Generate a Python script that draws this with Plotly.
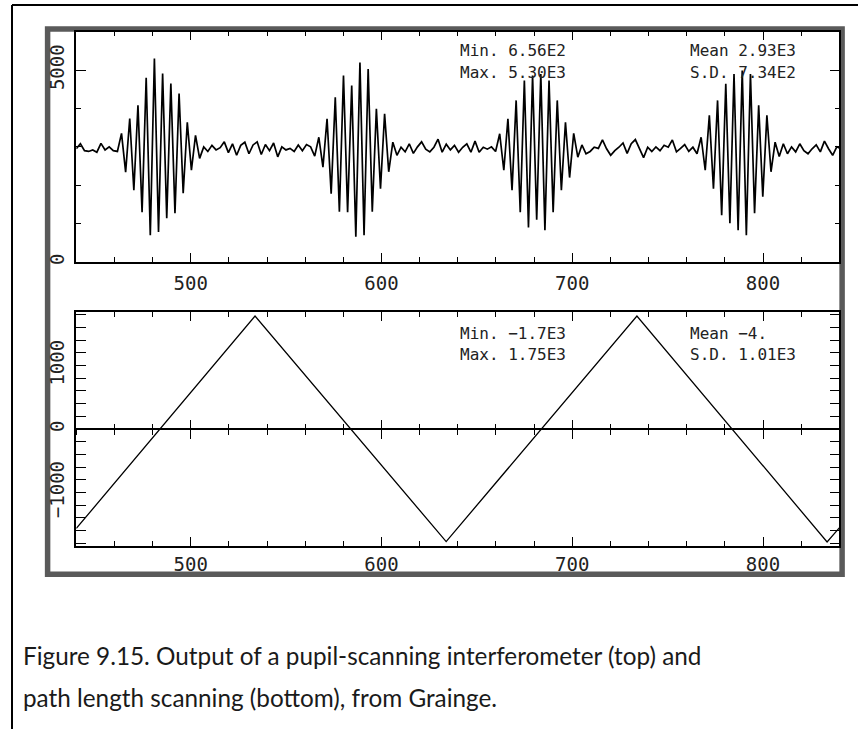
import numpy as np
import plotly.graph_objects as go

W, H = 858, 729

# ---------------- data: top panel (pupil-scanning interferometer output) ----------------
SCAN_START = 440.0     # first sample position
SCAN_STEP = 2.155      # sample spacing
baseline_a = [2950, 3080, 2900, 2880, 2920, 2860, 3090, 2920, 3000, 2900, 2880]
packet_1 = [3350, 2340, 3740, 1870, 4080, 1300, 4800, 700, 5300, 780,
            4910, 1140, 4650, 1270, 4390, 1790, 3640, 2390, 3300, 2700]
baseline_b = [3000, 2880, 3040, 2920, 2980, 3130, 2850, 3080, 2780, 3040,
              3120, 2820, 3050, 3130, 2800, 3060, 2900, 3100, 2740, 3000,
              2920, 2960, 2880, 3050, 2900, 3060, 3000, 2760]
packet_2 = [3250, 2470, 3730, 1780, 4290, 1310, 4860, 1300, 4600, 656,
            5200, 700, 5030, 1310, 3990, 1910, 3860, 2350, 3120, 2780]
baseline_c = [2990, 2870, 3080, 2830, 3000, 3130, 2940, 2870, 2990, 3200,
              2860, 3070, 2920, 3040, 2860, 2990, 3080, 2860, 3150, 2860,
              2990, 2940, 3000, 2880]
packet_3 = [3340, 2390, 3730, 1870, 4210, 1300, 4730, 900, 4860, 1100,
            4900, 830, 4730, 1300, 4210, 1870, 3640, 2200, 3350, 2730]
baseline_d = [3050, 2820, 2880, 2990, 2960, 3180, 2950, 2780, 2900, 2990,
              3100, 2830, 3080, 3190, 2950, 2720, 2990, 2880, 3000, 2900,
              3040, 2990, 3180, 2870, 2960, 3060, 2880, 2990, 2820]
packet_4 = [3250, 2390, 3820, 1910, 4210, 1220, 4640, 1010, 4900, 830,
            4990, 700, 4900, 1270, 4080, 1700, 3820, 2350, 3120, 2750]
baseline_e = [3080, 2820, 3000, 2870, 3080, 2900, 2820, 2950, 3050, 2870,
              3150, 2950, 2780, 3000, 2950]

signal = (baseline_a + packet_1 + baseline_b + packet_2 + baseline_c +
          packet_3 + baseline_d + packet_4 + baseline_e)
scan_x = SCAN_START + SCAN_STEP * np.arange(len(signal))

top_stats_left = ["Min. 6.56E2", "Max. 5.30E3"]
top_stats_right = ["Mean 2.93E3", "S.D. 7.34E2"]

# ---------------- data: bottom panel (path length scanning) ----------------
path_x = [440.0, 533.7, 633.9, 733.9, 833.6, 840.0]
path_y = [-1568, 1780, -1775, 1780, -1780, -1560]

bot_stats_left = ["Min. \u22121.7E3", "Max. 1.75E3"]
bot_stats_right = ["Mean \u22124.", "S.D. 1.01E3"]

x_tick_vals = [500, 600, 700, 800]
caption_lines = ["Figure 9.15. Output of a pupil-scanning interferometer (top) and",
                 "path length scanning (bottom), from Grainge."]

# ---------------- layout helpers ----------------
def fx(px):
    return px / W

def fy(py):
    return 1 - py / H

PLOT_L, PLOT_R = 76.3, 839.3
TOP_T, TOP_B = 31.7, 262.0
BOT_T, BOT_B = 312.3, 545.7
ZERO_Y = (BOT_T + BOT_B) / 2

TICK_FONT = dict(family="DejaVu Sans Mono", size=19, color="#222222")
STAT_FONT = dict(family="DejaVu Sans Mono", size=16, color="#222222")

fig = go.Figure()
fig.add_trace(go.Scatter(x=scan_x, y=signal, mode="lines",
                         line=dict(color="black", width=1.7),
                         xaxis="x", yaxis="y", showlegend=False, hoverinfo="skip"))
fig.add_trace(go.Scatter(x=path_x, y=path_y, mode="lines",
                         line=dict(color="black", width=1.3),
                         xaxis="x2", yaxis="y2", showlegend=False, hoverinfo="skip"))
for ax in ("x3", "x4"):
    fig.add_trace(go.Scatter(x=[None], y=[None], mode="lines", xaxis=ax, yaxis="y2",
                             showlegend=False, hoverinfo="skip"))

def xaxis_common(domain, standoff):
    return dict(domain=domain, range=[440, 840], tickvals=x_tick_vals,
                ticks="inside", ticklen=9, tickwidth=1.3, tickcolor="black",
                minor=dict(dtick=20, tick0=0, ticks="inside", ticklen=5, tickwidth=1.1,
                           tickcolor="black", showgrid=False),
                mirror="allticks", showline=True, linecolor="black", linewidth=1.5,
                showgrid=False, zeroline=False, tickfont=TICK_FONT,
                ticklabelstandoff=standoff, fixedrange=True)

xdom = [fx(PLOT_L), fx(PLOT_R)]
layout = dict(
    width=W, height=H, autosize=False,
    margin=dict(l=0, r=0, t=0, b=0),
    paper_bgcolor="white", plot_bgcolor="rgba(0,0,0,0)",
    template="none",
    xaxis=dict(**xaxis_common(xdom, 3), anchor="y"),
    yaxis=dict(domain=[fy(TOP_B), fy(TOP_T)], range=[0, 6000], tickvals=[0, 5000],
               ticks="inside", ticklen=10, tickwidth=1.3, tickcolor="black",
               minor=dict(dtick=1000, ticks="inside", ticklen=5, tickwidth=1.1,
                          tickcolor="black", showgrid=False),
               mirror="allticks", showline=True, linecolor="black", linewidth=1.5,
               showgrid=False, zeroline=False, tickfont=TICK_FONT, tickangle=-90,
               ticklabelstandoff=3, anchor="x", fixedrange=True),
    xaxis2=dict(**xaxis_common(xdom, 1), anchor="y2"),
    yaxis2=dict(domain=[fy(BOT_B), fy(BOT_T)], range=[-1840, 1840],
                tickvals=[-1000, 0, 1000],
                ticks="inside", ticklen=10, tickwidth=1.3, tickcolor="black",
                minor=dict(dtick=200, ticks="inside", ticklen=5, tickwidth=1.1,
                           tickcolor="black", showgrid=False),
                mirror="allticks", showline=True, linecolor="black", linewidth=1.5,
                showgrid=False, zeroline=True, zerolinecolor="black", zerolinewidth=1.5,
                tickfont=TICK_FONT, tickangle=-90, ticklabelstandoff=3,
                anchor="x2", fixedrange=True),
)
for name, side_ticks in (("xaxis3", "inside"), ("xaxis4", "outside")):
    layout[name] = dict(overlaying="x2", anchor="free", position=fy(ZERO_Y),
                        range=[440, 840], tickvals=x_tick_vals,
                        ticks=side_ticks, ticklen=9, tickwidth=1.3, tickcolor="black",
                        minor=dict(dtick=20, tick0=0, ticks=side_ticks, ticklen=5,
                                   tickwidth=1.1, tickcolor="black", showgrid=False),
                        showline=False, showgrid=False, zeroline=False,
                        showticklabels=False, fixedrange=True)
fig.update_layout(**layout)

# page border and grey frame
shapes = [
    dict(type="line", xref="paper", yref="paper", x0=fx(12), x1=1.0, y0=fy(5), y1=fy(5),
         line=dict(color="black", width=2), layer="below"),
    dict(type="line", xref="paper", yref="paper", x0=fx(12), x1=fx(12), y0=fy(5), y1=0,
         line=dict(color="black", width=2), layer="below"),
    dict(type="rect", xref="paper", yref="paper", x0=fx(47.6), x1=fx(842.1),
         y0=fy(574.3), y1=fy(28.9), line=dict(color="#5a5a5a", width=5.5), layer="below"),
]
fig.update_layout(shapes=shapes)

annotations = []
for i, (l, r) in enumerate(zip(top_stats_left, top_stats_right)):
    yy = 50 + 22 * i
    annotations.append(dict(text=l, x=fx(458), y=fy(yy)))
    annotations.append(dict(text=r, x=fx(688), y=fy(yy)))
for i, (l, r) in enumerate(zip(bot_stats_left, bot_stats_right)):
    yy = 333 + 21 * i
    annotations.append(dict(text=l, x=fx(458), y=fy(yy)))
    annotations.append(dict(text=r, x=fx(688), y=fy(yy)))
for a in annotations:
    a.update(xref="paper", yref="paper", xanchor="left", yanchor="middle",
             showarrow=False, font=STAT_FONT)
cap = []
for i, line in enumerate(caption_lines):
    cap.append(dict(text=line, x=fx(21), y=fy(655 + 42 * i), xref="paper", yref="paper",
                    xanchor="left", yanchor="middle", showarrow=False,
                    font=dict(family="Lato", size=24.3, color="#1a1a1a")))
fig.update_layout(annotations=annotations + cap)

fig.write_html("out.html")
